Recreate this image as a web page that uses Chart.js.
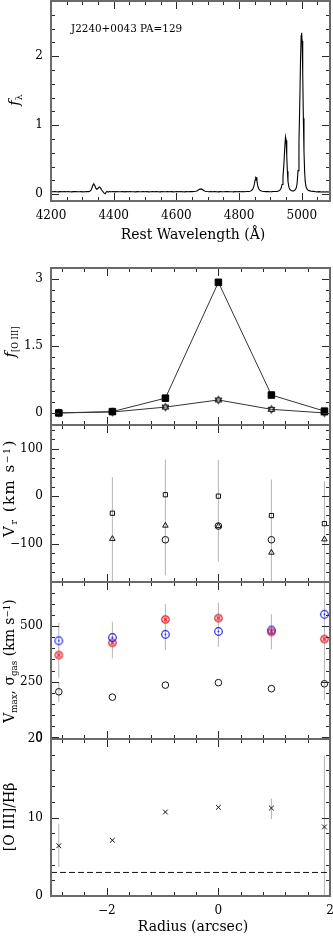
<!DOCTYPE html>
<html><head><meta charset="utf-8">
<script src="https://cdn.jsdelivr.net/npm/chart.js@4"></script>
<style>
html,body{margin:0;padding:0;background:#fff;width:333px;height:936px;overflow:hidden;position:relative;}
canvas{position:absolute;left:0;}
.t{position:absolute;font-family:"DejaVu Serif",serif;font-size:14px;color:#000;white-space:nowrap;line-height:1;}
.rot{transform:translate(-50%,-50%) rotate(-90deg);}
.ctr{transform:translate(-50%,-50%);}
.sub{font-size:0.62em;position:relative;top:0.35em;}
.sup{font-size:0.62em;position:relative;top:-0.45em;}
</style></head><body>
<canvas id="c1" width="345" height="260" style="top:-15px"></canvas>
<canvas id="c2" width="345" height="189" style="top:252px"></canvas>
<canvas id="c3" width="345" height="189" style="top:409px"></canvas>
<canvas id="c4" width="345" height="189" style="top:566px"></canvas>
<canvas id="c5" width="345" height="213" style="top:723px"></canvas>

<div class="t" style="left:71px;top:23px;font-size:10.4px;">J2240+0043 PA=129</div>
<div class="t ctr" style="left:193px;top:234px;">Rest Wavelength (Å)</div>
<div class="t ctr" style="left:193px;top:926px;">Radius (arcsec)</div>
<div class="t rot" style="left:14px;top:100px;font-size:15px;"><i>f</i><span class="sub">λ</span></div>
<div class="t rot" style="left:10px;top:342px;font-size:15px;"><i>f</i><span class="sub" style="font-size:0.55em">[O III]</span></div>
<div class="t rot" style="left:9px;top:488px;font-size:15px;letter-spacing:1.5px;">V<span class="sub">r</span>&nbsp;(km s<span class="sup">−1</span>)</div>
<div class="t rot" style="left:9px;top:661px;">V<span class="sub">max</span>, σ<span class="sub">gas</span> (km s<span class="sup">−1</span>)</div>
<div class="t rot" style="left:9px;top:817px;">[O III]/Hβ</div>

<script>
// ---------- DATA ----------
// Panel 1: spectrum
const wave = [4200,4206,4212,4218,4224,4230,4236,4242,4248,4254,4260,4266,4272,4278,4284,4290,4296,4302,4308,4314,4320,
 4324,4328,4331,4334,4337,4340,4343,4346,4349,4352,4355,4358,4361,4364,4367,4370,4373,4376,4379,4382,4386,4392,4398,4404,4410,
 4416,4422,4428,4434,4440,4446,4452,4458,4464,4470,4476,4482,4488,4494,4500,4506,4512,4518,4524,4530,4536,4542,4548,4554,4560,
 4566,4572,4578,4584,4590,4596,4602,4608,4614,4620,4626,4632,4638,4644,4650,4656,4662,4667,4671,4675,4679,4683,4687,4692,4698,
 4704,4710,4716,4722,4728,4734,4740,4746,4752,4758,4764,4770,4776,4782,4788,4794,4800,4806,4812,4818,4824,4830,4835,4839,4843,
 4846,4849,4851,4853,4855,4857,4859,4862,4865,4869,4874,4880,4886,4892,4898,4904,4910,4916,4921,4926,4930,4934,4937,4940,4943,
 4946,4948,4950,4952,4954,4956,4959,4962,4966,4970,4974,4978,4982,4985,4988,4991,4994,4996,4998,4999.5,5001,5003,5005,5007,5009,
 5011,5014,5018,5023,5030,5037,5044,5050,5056,5062,5068,5074,5080,5086,5090];
const flux = [.036,.034,.037,.035,.033,.036,.035,.038,.034,.036,.035,.033,.036,.037,.034,.035,.036,.033,.035,.037,.036,
 .042,.060,.095,.135,.145,.120,.085,.070,.078,.095,.105,.090,.065,.045,.030,.010,.005,.030,.040,.028,.036,.034,.037,.033,.036,
 .035,.034,.037,.033,.036,.035,.038,.034,.035,.033,.036,.034,.035,.037,.034,.036,.033,.035,.036,.034,.037,.035,.033,.036,.034,
 .035,.037,.034,.036,.033,.035,.037,.034,.036,.035,.033,.036,.035,.037,.036,.038,.041,.050,.062,.072,.075,.066,.052,.042,.037,
 .035,.036,.034,.037,.035,.033,.036,.035,.034,.036,.037,.034,.035,.033,.036,.035,.037,.034,.036,.035,.037,.038,.042,.050,.068,
 .095,.150,.205,.245,.240,.190,.130,.085,.060,.048,.041,.038,.036,.037,.035,.036,.038,.037,.040,.046,.058,.085,.140,.250,.440,
 .700,.830,.780,.560,.330,.180,.100,.068,.052,.046,.047,.058,.085,.150,.340,.750,1.420,1.950,2.300,2.340,2.220,1.750,1.100,.620,.330,
 .180,.100,.065,.050,.042,.039,.035,.033,.036,.031,.034,.030,.033,.031,.032];
const specLabel = 'J2240+0043 PA=129';
const waveTicksMinor = [4200,4250,4300,4350,4400,4450,4500,4550,4600,4650,4700,4750,4800,4850,4900,4950,5000,5050];
const waveTicksMajor = [4200,4400,4600,4800,5000];
const fluxTicksMinor = [0,0.2,0.4,0.6,0.8,1,1.2,1.4,1.6,1.8,2,2.2,2.4,2.6];
const fluxTicksMajor = [0,1,2];

// Panels 2-5: radial profiles
const radius = [-2.86, -1.90, -0.95, 0.00, 0.95, 1.90];
const radiusTicksMinor = [-2.8,-2.4,-2,-1.6,-1.2,-0.8,-0.4,0,0.4,0.8,1.2,1.6,2];
const radiusTicksMajor = [-2,0,2];

const fOIIItotal = [0.00, 0.03, 0.33, 2.92, 0.40, 0.04];
const fOIIIcore  = [0.00, 0.02, 0.13, 0.29, 0.08, 0.00];
const fTicksMinor = [0,0.25,0.5,0.75,1,1.25,1.5,1.75,2,2.25,2.5,2.75,3];
const fTicksMajor = [0,1.5,3];

const vrSquare   = [null, -36, 3, 0, -41, -58];
const vrTriangle = [null, -90, -62, -63, -119, -91];
const vrCircle   = [null, null, -92, -63, -92, null];
const vrErrHi    = [null, 40, 77, 76, 35, 32];
const vrErrLo    = [null, -181, -167, -138, -181, -181];
const vrTicksMinor = [-180,-160,-140,-120,-100,-80,-60,-40,-20,0,20,40,60,80,100,120,140];
const vrTicksMajor = [-100,0,100];

const sigmaGas  = [205, 181, 235, 246, 219, 241];
const vmaxRed   = [370, 425, 530, 536, 474, 442];
const vmaxBlue  = [434, 449, 463, 476, 482, 553];
const redErrHi  = [515, 520, 599, 605, 553, 698];
const redErrLo  = [268, 355, 392, 407, 396, 300];
const sigErrHi  = [245, null, null, null, null, 300];
const sigErrLo  = [160, null, null, null, null, 168];
const vTicksMinor = [0,50,100,150,200,250,300,350,400,450,500,550,600,650];
const vTicksMajor = [0,250,500];

const ratio      = [6.4, 7.1, 10.7, 11.3, 11.2, 8.8];
const ratioErrHi = [9.15, null, null, null, 12.4, 17.9];
const ratioErrLo = [3.7, null, null, null, 9.8, 0];
const ratioLimit = 3;
const rTicksMinor = [0,2,4,6,8,10,12,14,16,18,20];
const rTicksMajor = [0,10,20];

// ---------- STYLE / HELPERS ----------
const FONT = {family:'"DejaVu Serif", serif', size:12};
const AXIS_GRAY = '#6a6a6a';
const ERR_GRAY = '#b4b4b4';
const has = (arr, v) => arr.some(a => Math.abs(a - v) < 1e-9);
const fmt = v => (v < 0 ? '\u2212' : '') + String(Math.abs(v));

function mk(size, draw){ const c=document.createElement('canvas'); c.width=c.height=size; const g=c.getContext('2d'); draw(g,size/2); return c; }
const starMark = mk(11,(g,c)=>{ g.strokeStyle='#111'; g.lineWidth=1; const r=3.9;
  for(let k=0;k<2;k++){ g.beginPath(); for(let j=0;j<3;j++){ const a=-Math.PI/2+k*Math.PI+j*2*Math.PI/3; const px=c+r*Math.cos(a), py=c+r*Math.sin(a); j?g.lineTo(px,py):g.moveTo(px,py);} g.closePath(); g.stroke(); } });
const redMark = mk(13,(g,c)=>{ g.strokeStyle='#e8202a'; g.lineWidth=1.3; g.beginPath(); g.arc(c,c,3.7,0,Math.PI*2); g.stroke();
  g.lineWidth=1.1; g.beginPath(); g.moveTo(c-2,c-2); g.lineTo(c+2,c+2); g.moveTo(c+2,c-2); g.lineTo(c-2,c+2); g.stroke(); });
const blueMark = mk(13,(g,c)=>{ g.strokeStyle='#2020f0'; g.lineWidth=1.2; g.beginPath(); g.arc(c,c,3.8,0,Math.PI*2); g.stroke();
  g.fillStyle='#2020f0'; g.beginPath(); g.arc(c,c,0.9,0,Math.PI*2); g.fill(); });

const pts = (xs, ys) => xs.map((x,i)=>({x, y: ys[i]})).filter(p => p.y !== null);
function errPts(xs, lo, hi){ const d=[]; xs.forEach((x,i)=>{ if(lo[i]===null) return; d.push({x,y:lo[i]},{x,y:hi[i]},{x,y:null}); }); return d; }

function boxTicks(xMinor, xMajor, yMinor, yMajor){
  return { id:'boxTicks', afterDraw(chart){
    const {ctx, chartArea:a} = chart; const xs=chart.scales.x, ys=chart.scales.y;
    ctx.save(); ctx.strokeStyle='#2a2a2a'; ctx.lineWidth=1; ctx.beginPath();
    xMinor.forEach(v=>{ const p=Math.round(xs.getPixelForValue(v))+0.5; const L=has(xMajor,v)?8:4;
      ctx.moveTo(p,a.bottom); ctx.lineTo(p,a.bottom-L); ctx.moveTo(p,a.top); ctx.lineTo(p,a.top+L); });
    yMinor.forEach(v=>{ const p=Math.round(ys.getPixelForValue(v))+0.5; const L=has(yMajor,v)?8:4;
      ctx.moveTo(a.left,p); ctx.lineTo(a.left+L,p); ctx.moveTo(a.right,p); ctx.lineTo(a.right-L,p); });
    ctx.stroke();
    ctx.strokeStyle=AXIS_GRAY; ctx.lineWidth=2; ctx.strokeRect(a.left,a.top,a.right-a.left,a.bottom-a.top);
    ctx.restore(); } };
}

function yScale(min,max,minor,major){
  return { type:'linear', min, max, grid:{display:false,drawTicks:false}, border:{display:false},
    afterBuildTicks:s=>{ s.ticks = minor.map(v=>({value:v})); }, afterFit:s=>{ s.width=51; },
    ticks:{ autoSkip:false, padding:8, color:'#000', font:FONT, callback:v=> has(major,v)?fmt(v):'' } };
}
function xScale(min,max,minor,major,show,h){
  const o = { type:'linear', min, max, display:show, grid:{display:false,drawTicks:false}, border:{display:false},
    afterBuildTicks:s=>{ s.ticks = minor.map(v=>({value:v})); },
    ticks:{ autoSkip:false, maxRotation:0, minRotation:0, padding:8, color:'#000', font:FONT, callback:v=> has(major,v)?fmt(v):'' } };
  if (show) o.afterFit = s=>{ s.height=h; };
  return o;
}
function make(id, datasets, xs, ys, plugin, padBottom){
  return new Chart(document.getElementById(id), { type:'scatter', data:{datasets},
    options:{ responsive:false, animation:false, devicePixelRatio:1, events:[],
      layout:{padding:{top:16,right:15,left:0,bottom:padBottom}},
      plugins:{legend:{display:false},tooltip:{enabled:false}},
      scales:{x:xs,y:ys} }, plugins:[plugin] });
}

// ---------- PANEL 1 ----------
make('c1', [
  {data: pts(wave, flux), showLine:true, borderColor:'#000', borderWidth:1.1, pointRadius:0}
], xScale(4200,5090,waveTicksMinor,waveTicksMajor,true,44), yScale(-0.1,2.8,fluxTicksMinor,fluxTicksMajor),
  boxTicks(waveTicksMinor,waveTicksMajor,fluxTicksMinor,fluxTicksMajor), 0);

// ---------- PANEL 2 ----------
make('c2', [
  {data: pts(radius,fOIIItotal), showLine:true, borderColor:'#333', borderWidth:1, pointStyle:'rect', pointRadius:4.6, backgroundColor:'#000', pointBorderColor:'#000'},
  {data: pts(radius,fOIIIcore), showLine:true, borderColor:'#333', borderWidth:1, pointStyle:starMark}
], xScale(-3,2,radiusTicksMinor,radiusTicksMajor,false), yScale(-0.27,3.24,fTicksMinor,fTicksMajor),
  boxTicks(radiusTicksMinor,radiusTicksMajor,fTicksMinor,fTicksMajor), 16);

// ---------- PANEL 3 ----------
make('c3', [
  {data: pts(radius,vrCircle), pointStyle:'circle', pointRadius:3.3, borderColor:'#111', borderWidth:1, backgroundColor:'rgba(0,0,0,0)'},
  {data: pts(radius,vrTriangle), pointStyle:'triangle', pointRadius:3.2, borderColor:'#111', borderWidth:1, backgroundColor:'rgba(0,0,0,0)'},
  {data: pts(radius,vrSquare), pointStyle:'rect', pointRadius:3.0, borderColor:'#111', borderWidth:1, backgroundColor:'rgba(0,0,0,0)'},
  {data: errPts(radius,vrErrLo,vrErrHi), showLine:true, borderColor:ERR_GRAY, borderWidth:1, pointRadius:0, spanGaps:false}
], xScale(-3,2,radiusTicksMinor,radiusTicksMajor,false), yScale(-181,150,vrTicksMinor,vrTicksMajor),
  boxTicks(radiusTicksMinor,radiusTicksMajor,vrTicksMinor,vrTicksMajor), 16);

// ---------- PANEL 4 ----------
make('c4', [
  {data: pts(radius,vmaxBlue), pointStyle:blueMark},
  {data: pts(radius,vmaxRed), pointStyle:redMark},
  {data: pts(radius,sigmaGas), pointStyle:'circle', pointRadius:3.3, borderColor:'#111', borderWidth:1, backgroundColor:'rgba(0,0,0,0)'},
  {data: errPts(radius,redErrLo,redErrHi), showLine:true, borderColor:ERR_GRAY, borderWidth:1, pointRadius:0, spanGaps:false},
  {data: errPts(radius,sigErrLo,sigErrHi), showLine:true, borderColor:ERR_GRAY, borderWidth:1, pointRadius:0, spanGaps:false}
], xScale(-3,2,radiusTicksMinor,radiusTicksMajor,false), yScale(-7,698,vTicksMinor,vTicksMajor),
  boxTicks(radiusTicksMinor,radiusTicksMajor,vTicksMinor,vTicksMajor), 16);

// ---------- PANEL 5 ----------
make('c5', [
  {data: pts(radius,ratio), pointStyle:'crossRot', pointRadius:3.4, borderColor:'#111', borderWidth:1},
  {data: [{x:-3,y:ratioLimit},{x:2,y:ratioLimit}], showLine:true, borderColor:'#111', borderWidth:1, borderDash:[6,3], pointRadius:0},
  {data: errPts(radius,ratioErrLo,ratioErrHi), showLine:true, borderColor:ERR_GRAY, borderWidth:1, pointRadius:0, spanGaps:false}
], xScale(-3,2,radiusTicksMinor,radiusTicksMajor,true,40), yScale(0,20,rTicksMinor,rTicksMajor),
  boxTicks(radiusTicksMinor,radiusTicksMajor,rTicksMinor,rTicksMajor), 0);
</script>
</body></html>
